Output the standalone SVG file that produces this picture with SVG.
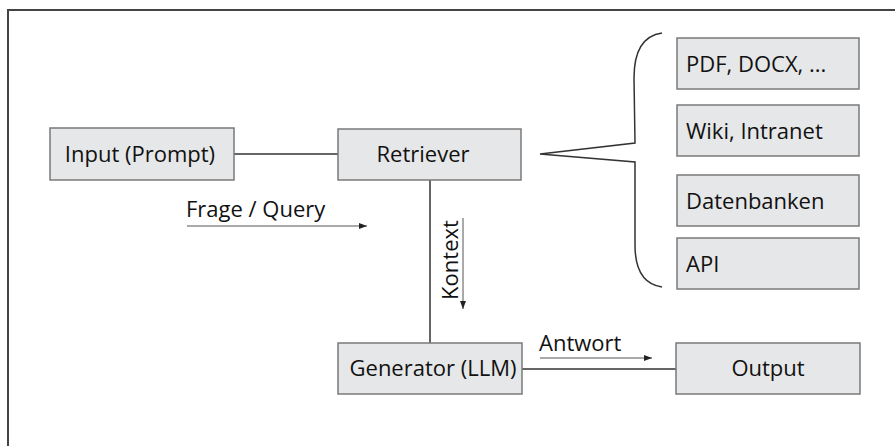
<svg xmlns="http://www.w3.org/2000/svg" width="895" height="446" viewBox="0 0 895 446">
<style>
.box{fill:#e6e7e8;stroke:#7a7a7a;stroke-width:1.5}
.t{font-family:"Open Sans","Noto Sans",sans-serif;font-size:22px;fill:#111}
.c{text-anchor:middle}
.ln{stroke:#333;stroke-width:1.5;fill:none}
.ar{stroke:#555;stroke-width:1;fill:none;marker-end:url(#ah)}
</style>
<defs>
<marker id="ah" viewBox="0 0 8 6" refX="8" refY="3" markerWidth="8" markerHeight="6" markerUnits="userSpaceOnUse" orient="auto">
<path d="M0,0 L8,3 L0,6 Z" fill="#222"/>
</marker>
</defs>
<rect width="895" height="446" fill="#fff"/>
<rect x="8" y="10" width="900" height="450" fill="none" stroke="#444" stroke-width="2"/>
<g id="connectors">
<line class="ln" x1="234" y1="154" x2="338" y2="154"/>
<line class="ln" x1="430" y1="180" x2="430" y2="343"/>
<line class="ln" x1="522" y1="369" x2="676" y2="369" stroke-width="2"/>
<path class="ln" d="M662,33 C648,35 634,45 634,78 L635,143 L540,154 L635,162 L635,245 C635,275 648,285 662,287" stroke-width="1.3"/>
<line class="ar" x1="187" y1="226" x2="367" y2="226"/>
<line class="ar" x1="463" y1="218" x2="463" y2="309"/>
<line class="ar" x1="540" y1="358" x2="652" y2="358"/>
<text class="t" x="186" y="217">Frage / Query</text>
<text class="t c" transform="translate(458,260) rotate(-90)">Kontext</text>
<text class="t" x="539" y="351">Antwort</text>
</g>
<g id="input"><rect class="box" x="50" y="128" width="184" height="52"/><text class="t c" x="140" y="162">Input (Prompt)</text></g>
<g id="retriever"><rect class="box" x="338" y="129" width="183" height="51"/><text class="t c" x="423" y="162">Retriever</text></g>
<g id="generator"><rect class="box" x="338" y="343" width="184" height="51"/><text class="t c" x="433" y="376">Generator (LLM)</text></g>
<g id="output"><rect class="box" x="676" y="343" width="184" height="51"/><text class="t c" x="768" y="376">Output</text></g>
<g id="pdf"><rect class="box" x="677" y="38" width="182" height="51"/><text class="t" x="686" y="72">PDF, DOCX, ...</text></g>
<g id="wiki"><rect class="box" x="677" y="105" width="182" height="51"/><text class="t" x="686" y="139">Wiki, Intranet</text></g>
<g id="db"><rect class="box" x="677" y="175" width="182" height="51"/><text class="t" x="686" y="209">Datenbanken</text></g>
<g id="api"><rect class="box" x="677" y="238" width="182" height="51"/><text class="t" x="686" y="272">API</text></g>
</svg>
